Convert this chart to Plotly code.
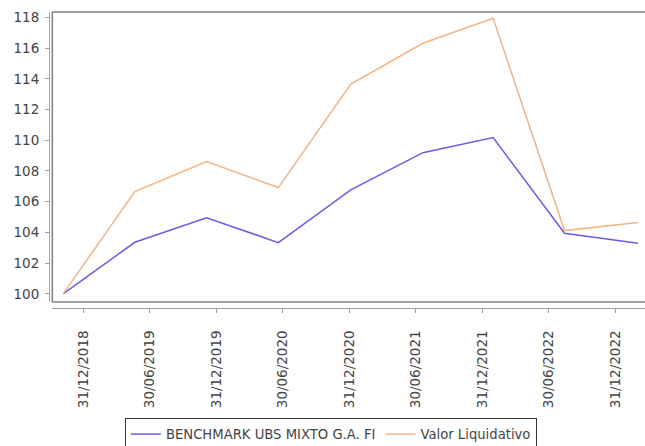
import plotly.graph_objects as go

# ---- data ----
dates = ["2018-11-05", "2019-05-21", "2019-12-04", "2020-06-18", "2021-01-03",
         "2021-07-20", "2022-01-29", "2022-08-13", "2023-03-03"]
benchmark = [100.0, 103.36, 104.96, 103.34, 106.77, 109.19, 110.17, 103.95, 103.30]
valor_liq = [100.0, 106.66, 108.61, 106.92, 113.66, 116.31, 117.94, 104.12, 104.64]
series_names = ["BENCHMARK UBS MIXTO G.A. FI", "Valor Liquidativo"]

x_tick_vals = ["2018-12-31", "2019-06-30", "2019-12-31", "2020-06-30", "2020-12-31",
               "2021-06-30", "2021-12-31", "2022-06-30", "2022-12-31"]
x_tick_text = ["31/12/2018", "30/06/2019", "31/12/2019", "30/06/2020", "31/12/2020",
               "30/06/2021", "31/12/2021", "30/06/2022", "31/12/2022"]
y_tick_vals = [100, 102, 104, 106, 108, 110, 112, 114, 116, 118]

FONT = "DejaVu Sans"
FS = 13.5
TXT = "#444444"
AXIS = "#a0a0a0"
BOX = "#808080"

fig = go.Figure()
fig.add_trace(go.Scatter(x=dates, y=benchmark, mode="lines", name=series_names[0],
                         line=dict(color="#6a5ce6", width=1.5)))
fig.add_trace(go.Scatter(x=dates, y=valor_liq, mode="lines", name=series_names[1],
                         line=dict(color="#f2b483", width=1.5)))

y_dom0 = 6 / 296
x_dom0 = 3.3 / 596

fig.update_layout(
    width=645, height=446,
    margin=dict(l=49, r=0, t=12, b=138, pad=0),
    paper_bgcolor="white", plot_bgcolor="white",
    font=dict(family=FONT, size=FS, color=TXT),
    xaxis=dict(
        type="date",
        domain=[x_dom0, 1],
        anchor="free", position=0,
        range=["2018-10-06 07:40", "2023-03-22"],
        tickmode="array", tickvals=x_tick_vals, ticktext=x_tick_text,
        tickangle=-90,
        showgrid=False, zeroline=False,
        showline=True, linecolor=AXIS, linewidth=1,
        ticks="outside", ticklen=4, tickcolor=AXIS, tickwidth=1,
        tickfont=dict(family=FONT, size=FS, color=TXT),
        ticklabelstandoff=12,
    ),
    yaxis=dict(
        domain=[y_dom0, 1],
        anchor="free", position=0,
        range=[99.475, 118.345],
        tickmode="array", tickvals=y_tick_vals,
        showgrid=False, zeroline=False,
        showline=True, linecolor=AXIS, linewidth=1,
        ticks="outside", ticklen=4, tickcolor=AXIS, tickwidth=1,
        tickfont=dict(family=FONT, size=FS, color=TXT),
        ticklabelstandoff=3,
    ),
    showlegend=True,
    legend=dict(
        orientation="h",
        xref="container", yref="container",
        x=0.513, xanchor="center",
        y=1 - 418 / 446, yanchor="top",
        bordercolor="#333333", borderwidth=1, bgcolor="white",
        font=dict(family=FONT, size=13.2, color=TXT),
        itemwidth=30,
    ),
    shapes=[
        dict(type="line", xref="paper", yref="paper", x0=x_dom0, x1=x_dom0, y0=y_dom0, y1=1,
             line=dict(color=BOX, width=1.5)),
        dict(type="line", xref="paper", yref="paper", x0=x_dom0, x1=1.0, y0=1, y1=1,
             line=dict(color=BOX, width=1.5)),
        dict(type="line", xref="paper", yref="paper", x0=x_dom0, x1=1.0, y0=y_dom0, y1=y_dom0,
             line=dict(color=BOX, width=1.5)),
    ],
)

fig.write_html("out.html", config={"displayModeBar": False})
